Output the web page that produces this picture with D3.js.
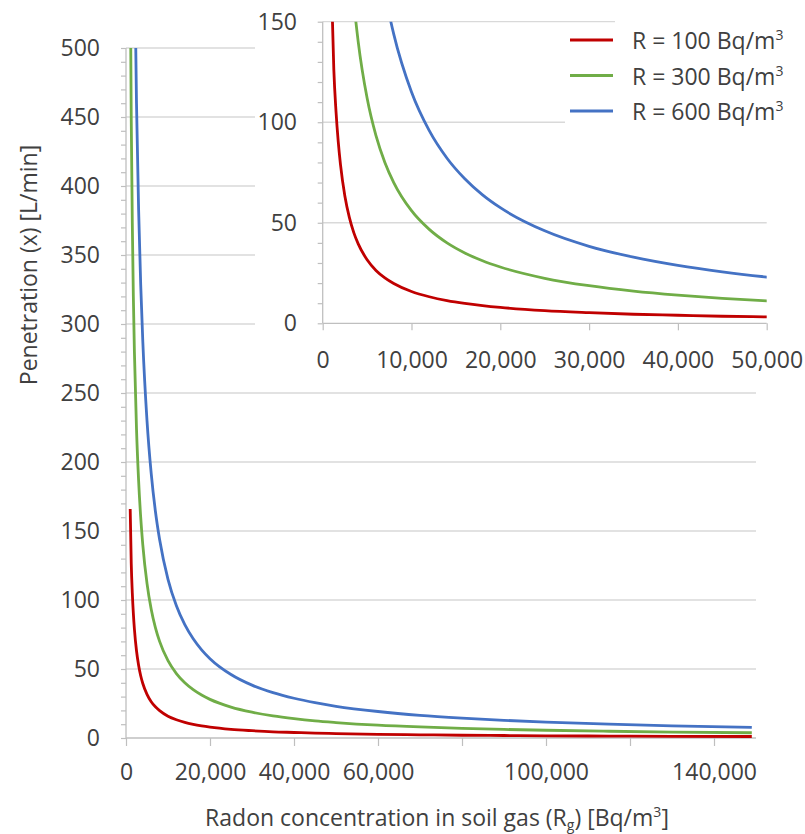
<!DOCTYPE html>
<html><head><meta charset="utf-8">
<script src="https://cdn.jsdelivr.net/npm/d3@7"></script>
<style>
html,body{margin:0;padding:0;background:#fff;}
svg{display:block;font-family:"Open Sans",sans-serif;}
</style></head>
<body>
<svg id="chart" width="805" height="834"></svg>
<script>
// ---- data ----
const rg = [1000,1250,1500,1750,2000,2500,3000,3500,4000,5000,6000,7000,8000,10000,12000,14000,16000,18000,20000,25000,30000,35000,40000,45000,50000,60000,70000,80000,90000,100000,115000,130000,149000];
const r100 = [166,126.4,105.3,90.3,79,63.2,52.7,45.1,39.5,31.6,26.3,22.6,19.8,15.8,13.2,11.3,9.9,8.8,7.9,6.3,5.3,4.5,4.0,3.5,3.2,2.6,2.3,2.0,1.8,1.6,1.4,1.2,1.1];
const r300 = [560,448,373.3,320,280,224,186.7,160,140,112,93.3,80,70,56,46.7,40,35,31.1,28,22.4,18.7,16,14,12.4,11.2,9.3,8,7,6.2,5.6,4.9,4.3,3.8];
const r600 = [1150,920,766.7,657.1,575,460,383.3,328.6,287.5,230,191.7,164.3,143.8,115,95.8,82.1,71.9,63.9,57.5,46,38.3,32.9,28.8,25.6,23,19.2,16.4,14.4,12.8,11.5,10,8.8,7.7];
const seriesNames = ["R = 100 Bq/m", "R = 300 Bq/m", "R = 600 Bq/m"];
const seriesColors = ["#c00000", "#70ad47", "#4472c4"];
const mainYTicks = d3.range(0, 501, 10);
const mainXTicks = [0,20000,40000,60000,80000,100000,120000,140000];
const mainXLabels = [0,20000,40000,60000,100000,140000];
const insetYTicks = d3.range(0, 151, 10);
const insetXTicks = [0,10000,20000,30000,40000,50000];

const seriesVals = [r100, r300, r600];
const series = seriesVals.map((vals, i) => ({
  name: seriesNames[i], color: seriesColors[i],
  pts: rg.map((g, j) => [g, vals[j]])
}));

const svg = d3.select("#chart");
const fmt = d3.format(",");
const FS = 23;
const FONT = "Open Sans";
const gridCol = "#d9d9d9", axisCol = "#bfbfbf", textCol = "#404040";

// ---------- main chart ----------
const x = d3.scaleLinear().domain([0,150000]).range([126,756]);
const y = d3.scaleLinear().domain([0,500]).range([738,48]);

const defs = svg.append("defs");
defs.append("clipPath").attr("id","clipMain").append("rect")
  .attr("x",126).attr("y",48).attr("width",630).attr("height",690);

svg.append("g").selectAll("line").data(d3.range(50,501,50)).join("line")
  .attr("x1",126).attr("x2",756).attr("y1",d=>y(d)).attr("y2",d=>y(d))
  .attr("stroke",gridCol).attr("stroke-width",1.3);

const yAx = svg.append("g").attr("transform","translate(126,0)")
  .call(d3.axisLeft(y).tickValues(mainYTicks).tickSize(5).tickPadding(21)
    .tickFormat(d => d % 50 === 0 ? d : ""));
const xAx = svg.append("g").attr("transform","translate(0,738)")
  .call(d3.axisBottom(x).tickValues(mainXTicks).tickSize(8).tickPadding(18)
    .tickFormat(d => mainXLabels.includes(d) ? fmt(d) : ""));
[yAx, xAx].forEach(g => {
  g.select(".domain").attr("stroke",axisCol).attr("stroke-width",1.3);
  g.selectAll(".tick line").attr("stroke",axisCol).attr("stroke-width",1.2);
  g.selectAll(".tick text").attr("fill",textCol).attr("font-size",FS).attr("font-family",FONT);
});
xAx.select(".domain").attr("d","M126,0H756");
yAx.select(".domain").attr("d","M0,48V738");

const lineMain = d3.line().x(d=>x(d[0])).y(d=>y(d[1])).curve(d3.curveMonotoneX);
svg.append("g").attr("clip-path","url(#clipMain)").selectAll("path").data(series).join("path")
  .attr("d", d => lineMain(d.pts)).attr("fill","none")
  .attr("stroke", d => d.color).attr("stroke-width",2.8);

// axis titles
const xt = svg.append("text").attr("x",437).attr("y",826).attr("text-anchor","middle")
  .attr("font-size",FS).attr("fill",textCol);
xt.append("tspan").text("Radon concentration in soil gas (R");
xt.append("tspan").attr("font-size",14).attr("dy",4).text("g");
xt.append("tspan").attr("dy",-4).text(") [Bq/m");
xt.append("tspan").attr("font-size",14).attr("dy",-9).text("3");
xt.append("tspan").attr("dy",9).text("]");

svg.append("text").attr("transform","translate(37,265) rotate(-90)")
  .attr("text-anchor","middle").attr("font-size",FS).attr("fill",textCol)
  .text("Penetration (x) [L/min]");

// ---------- inset ----------
svg.append("rect").attr("x",255).attr("y",0).attr("width",550).attr("height",372).attr("fill","#fff");

const xi = d3.scaleLinear().domain([0,50000]).range([322.7,766.7]);
const yi = d3.scaleLinear().domain([0,150]).range([323.3,21.7]);
defs.append("clipPath").attr("id","clipInset").append("rect")
  .attr("x",322.7).attr("y",21.7).attr("width",444).attr("height",301.6);

svg.append("g").selectAll("line").data([50,100,150]).join("line")
  .attr("x1",322.7).attr("x2",766.7).attr("y1",d=>yi(d)).attr("y2",d=>yi(d))
  .attr("stroke",gridCol).attr("stroke-width",1.3);

const yiAx = svg.append("g").attr("transform","translate(322.7,0)")
  .call(d3.axisLeft(yi).tickValues(insetYTicks).tickSize(5).tickPadding(20.7)
    .tickFormat(d => d % 50 === 0 ? d : ""));
const xiAx = svg.append("g").attr("transform","translate(0,323.3)")
  .call(d3.axisBottom(xi).tickValues(insetXTicks).tickSize(7).tickPadding(21)
    .tickFormat(d => fmt(d)));
[yiAx, xiAx].forEach(g => {
  g.select(".domain").attr("stroke",axisCol).attr("stroke-width",1.3);
  g.selectAll(".tick line").attr("stroke",axisCol).attr("stroke-width",1.2);
  g.selectAll(".tick text").attr("fill",textCol).attr("font-size",FS).attr("font-family",FONT);
});
xiAx.select(".domain").attr("d","M322.7,0H766.7");
yiAx.select(".domain").attr("d","M0,21.7V323.3");

const lineInset = d3.line().x(d=>xi(d[0])).y(d=>yi(d[1])).curve(d3.curveMonotoneX);
svg.append("g").attr("clip-path","url(#clipInset)").selectAll("path").data(series).join("path")
  .attr("d", d => lineInset(d.pts.filter(p => p[0] <= 60000))).attr("fill","none")
  .attr("stroke", d => d.color).attr("stroke-width",2.8);

// ---------- legend ----------
svg.append("rect").attr("x",565).attr("y",27).attr("width",240).attr("height",105).attr("fill","#fff");
svg.append("rect").attr("x",615).attr("y",0).attr("width",190).attr("height",30).attr("fill","#fff");
const lg = svg.append("g").selectAll("g").data(series).join("g")
  .attr("transform",(d,i)=>`translate(0,${40 + i*35.5})`);
lg.append("line").attr("x1",570).attr("x2",613).attr("y1",0).attr("y2",0)
  .attr("stroke",d=>d.color).attr("stroke-width",3);
const lt = lg.append("text").attr("x",632).attr("y",9).attr("font-size",FS).attr("fill",textCol);
lt.append("tspan").text(d=>d.name);
lt.append("tspan").attr("font-size",14).attr("dy",-9).text("3");
</script>
</body></html>
